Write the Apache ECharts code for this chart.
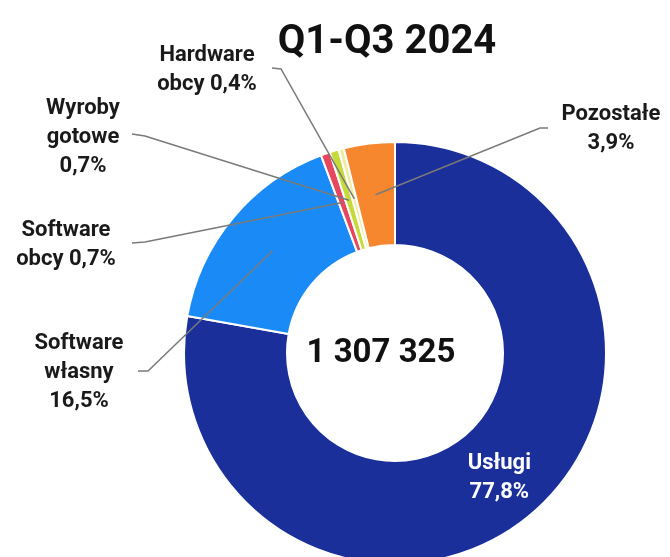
<!DOCTYPE html>
<html>
<head>
<meta charset="utf-8">
<script src="https://cdn.jsdelivr.net/npm/echarts@6/dist/echarts.min.js"></script>
<style>
  html, body { margin: 0; padding: 0; background: #fff; }
  #chart { width: 670px; height: 557px; }
</style>
</head>
<body>
<div id="chart"></div>
<script>
// data
var title = 'Q1-Q3 2024'
var total = '1 307 325'
var names = ['Usługi', 'Software\nwłasny', 'Software\nobcy', 'Wyroby\ngotowe', 'Hardware\nobcy', 'Pozostałe']
var values = [77.8, 16.5, 0.7, 0.7, 0.4, 3.9]
var joiners = ['\n', '\n', ' ', '\n', ' ', '\n']
var colors = ['#1b2f9b', '#1a8bf6', '#e8465c', '#c6da3c', '#f2eca2', '#f7872f']

// layout of the outside labels (text middle) and where their lines begin
var center = [395, 353]
var radius = [108, 211]
var labelPos = [null, [79, 372], [66, 245], [83, 137], [207, 70], [611, 129]]
var lineStart = [null, [[138, 371], [148, 371]], [[132, 243], [145, 242]],
  [[132, 134], [145, 136]], [[272, 68], [281, 69]], [[548, 128], [540, 128]]]

function fmt(v) {
  return v.toFixed(1).replace('.', ',') + '%'
}

var data = names.map(function (n, i) {
  var item = {
    name: n,
    value: values[i],
    itemStyle: { color: colors[i] },
    label: { formatter: n + joiners[i] + fmt(values[i]) }
  }
  if (i === 0) {
    item.label.position = 'inside'
    item.label.color = '#fff'
  }
  return item
})

var chart = echarts.init(document.getElementById('chart'))

chart.setOption({
  backgroundColor: '#fff',
  animation: false,
  graphic: [
    {
      id: 'title', type: 'text', x: 387, y: 43,
      style: { text: title, font: 'bold 40px Roboto', fill: '#111', align: 'center', verticalAlign: 'middle' }
    },
    {
      id: 'total', type: 'text', x: 381, y: 354,
      style: { text: total, font: 'bold 33px Roboto', fill: '#111', align: 'center', verticalAlign: 'middle' }
    }
  ],
  series: [{
    type: 'pie',
    center: center,
    radius: radius,
    startAngle: 90,
    clockwise: true,
    avoidLabelOverlap: false,
    itemStyle: { borderColor: '#fff', borderWidth: 2 },
    label: {
      show: true,
      position: 'outside',
      fontFamily: 'Roboto',
      fontWeight: 'bold',
      fontSize: 22,
      lineHeight: 29,
      color: '#1a1a1a',
      align: 'center'
    },
    labelLine: { show: false },
    labelLayout: function (params) {
      var i = params.dataIndex
      if (!labelPos[i]) return {}
      return {
        x: labelPos[i][0],
        y: labelPos[i][1],
        align: 'center',
        verticalAlign: 'middle'
      }
    },
    data: data
  }]
})

// leader lines: from the label to the middle of the ring on each slice's mid angle
var pieData = chart.getModel().getSeriesByIndex(0).getData()
var lines = []
for (var i = 1; i < names.length; i++) {
  var lay = pieData.getItemLayout(i)
  var mid = (lay.startAngle + lay.endAngle) / 2
  var rMid = (lay.r + lay.r0) / 2
  var anchor = [lay.cx + rMid * Math.cos(mid), lay.cy + rMid * Math.sin(mid)]
  lines.push({
    id: 'line' + i,
    type: 'polyline',
    z: 100,
    shape: { points: [lineStart[i][0], lineStart[i][1], anchor] },
    style: { stroke: '#7a7a7a', lineWidth: 1.5, fill: null }
  })
}
chart.setOption({ graphic: lines })
</script>
</body>
</html>
